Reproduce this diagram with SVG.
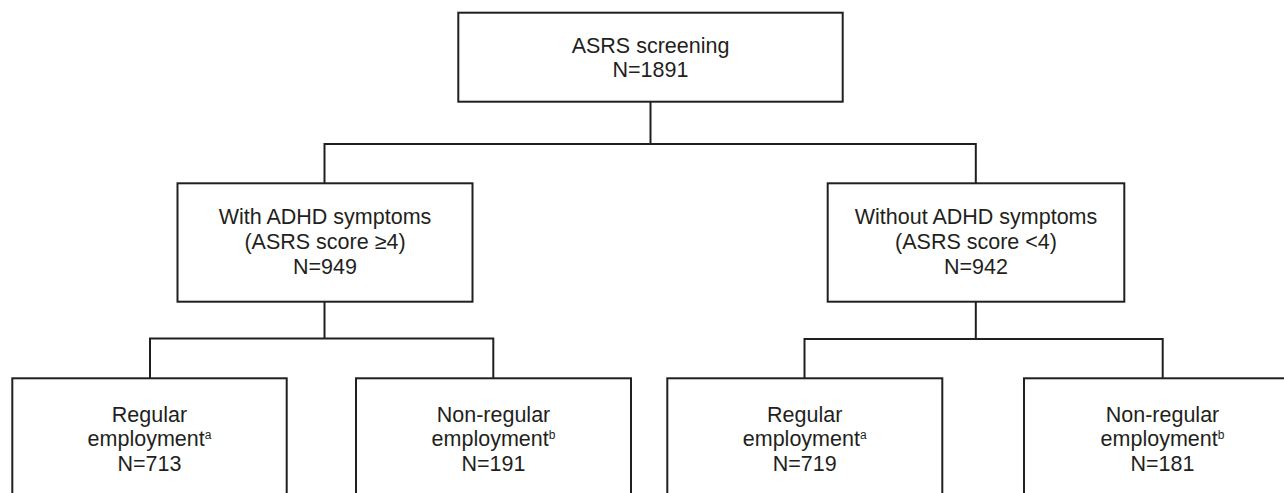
<svg xmlns="http://www.w3.org/2000/svg" width="1284" height="493" viewBox="0 0 1284 493">
<style>
.box{fill:#fff;stroke:#231f20;stroke-width:2}
.ln{fill:none;stroke:#231f20;stroke-width:2}
text{font-family:"Liberation Sans",Arial,sans-serif;font-size:21.5px;fill:#231f20;text-anchor:middle}
.sup{font-size:12px}
</style>
<rect width="1284" height="493" fill="#fff"/>
<g id="connectors">
<path class="ln" d="M650.5,101.7 V144 M324.5,144 H976 M324.5,143 V183.3 M975.8,143 V183.3"/>
<path class="ln" d="M324.5,301.7 V338.5 M150,338.5 H493.3 M150,337.5 V378.3 M493.3,337.5 V378.3"/>
<path class="ln" d="M975.8,301.7 V339 M804.5,339 H1162.7 M804.5,338 V378.3 M1162.7,338 V378.3"/>
</g>
<g id="n-screening">
<rect class="box" x="458.3" y="12.7" width="384.4" height="89"/>
<text x="650.5" y="52.7">ASRS screening</text>
<text x="650.5" y="77.3">N=1891</text>
</g>
<g id="n-with">
<rect class="box" x="177.5" y="183.3" width="295" height="118.4"/>
<text x="325" y="224">With ADHD symptoms</text>
<text x="325" y="249">(ASRS score ≥4)</text>
<text x="325" y="273.5">N=949</text>
</g>
<g id="n-without">
<rect class="box" x="827.7" y="183.3" width="296.6" height="118.4"/>
<text x="976" y="224">Without ADHD symptoms</text>
<text x="976" y="249">(ASRS score &lt;4)</text>
<text x="976" y="273.5">N=942</text>
</g>
<g id="n-reg1">
<rect class="box" x="12.3" y="378.3" width="274.4" height="130"/>
<text x="149.5" y="421.7">Regular</text>
<text x="149.5" y="446">employment<tspan class="sup" dy="-7">a</tspan></text>
<text x="149.5" y="470.7">N=713</text>
</g>
<g id="n-nonreg1">
<rect class="box" x="356" y="378.3" width="275" height="130"/>
<text x="493.5" y="421.7">Non-regular</text>
<text x="493.5" y="446">employment<tspan class="sup" dy="-7">b</tspan></text>
<text x="493.5" y="470.7">N=191</text>
</g>
<g id="n-reg2">
<rect class="box" x="667.3" y="378.3" width="275" height="130"/>
<text x="804.7" y="421.7">Regular</text>
<text x="804.7" y="446">employment<tspan class="sup" dy="-7">a</tspan></text>
<text x="804.7" y="470.7">N=719</text>
</g>
<g id="n-nonreg2">
<rect class="box" x="1024" y="378.3" width="276" height="130"/>
<text x="1162.5" y="421.7">Non-regular</text>
<text x="1162.5" y="446">employment<tspan class="sup" dy="-7">b</tspan></text>
<text x="1162.5" y="470.7">N=181</text>
</g>
</svg>
